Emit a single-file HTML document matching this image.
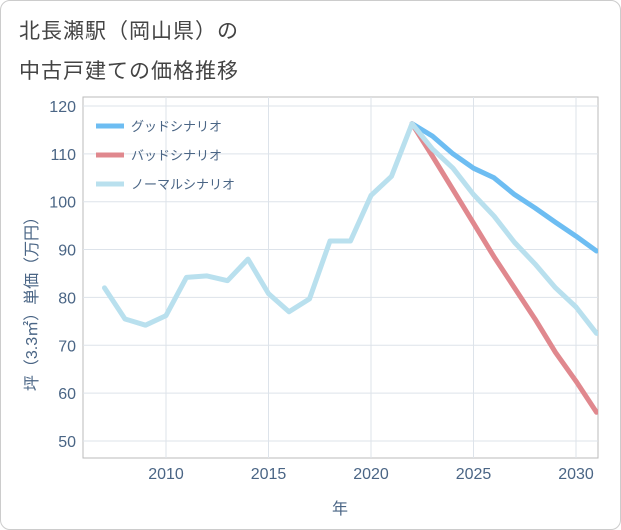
<!DOCTYPE html>
<html><head><meta charset="utf-8"><style>
body{margin:0;background:#fff;font-family:"Liberation Sans","Noto Sans CJK JP",sans-serif;}
#wrap{position:relative;width:619px;height:528px;border:1px solid #ccc;border-radius:10px;background:#fff;overflow:hidden}
.title{position:absolute;left:18px;font-size:21px;color:#444;letter-spacing:1px}
</style></head><body>
<div id="wrap">
<div class="title" style="top:14px">北長瀬駅（岡山県）の</div>
<div class="title" style="top:54px">中古戸建ての価格推移</div>
<svg id="chart" width="621" height="530" style="position:absolute;left:-1px;top:-1px"></svg>
</div>
<script>
const years=[2007,2008,2009,2010,2011,2012,2013,2014,2015,2016,2017,2018,2019,2020,2021,2022,2023,2024,2025,2026,2027,2028,2029,2030,2031];
const normalVals=[82,75.5,74.2,76.2,84.2,84.5,83.5,88,80.8,77,79.7,91.8,91.8,101.3,105.3,116.3,111,107,101.5,97,91.5,87,82,78,72.5];
const goodYears=[2022,2023,2024,2025,2026,2027,2028,2029,2030,2031];
const goodVals=[116.3,113.7,110,107,105,101.5,98.7,95.7,92.8,89.7];
const badVals=[116.3,109.5,102.5,95.5,88.5,82,75.5,68.5,62.5,56];
const yTicks=[50,60,70,80,90,100,110,120];
const xTicks=[2010,2015,2020,2025,2030];
const NS="http://www.w3.org/2000/svg";
const svg=document.getElementById('chart');
const L=83,R=598,T=97,B=458;
const X=v=>166+(v-2010)*20.5;
const Y=v=>441-(v-50)*4.786;
function mk(t,a,p){const e=document.createElementNS(NS,t);for(const k in a)e.setAttribute(k,a[k]);(p||svg).appendChild(e);return e;}
const frame=mk('rect',{x:L,y:T,width:R-L,height:B-T,fill:'none',stroke:'#bbb'});


yTicks.forEach(v=>{
 const g=mk('line',{x1:L,x2:R,y1:Y(v),y2:Y(v),stroke:'#dde3ea'});
 
 
 const t=mk('text',{x:76,y:Y(v)+6,'text-anchor':'end','font-size':16,fill:'#4a6585'});
 t.textContent=v;
 
 
});
xTicks.forEach(v=>{
 const g=mk('line',{x1:X(v),x2:X(v),y1:T,y2:B,stroke:'#dde3ea'});
 
 
 const t=mk('text',{x:X(v),y:479,'text-anchor':'middle','font-size':16,fill:'#4a6585'});
 t.textContent=v;
 
 
});
const xt=mk('text',{x:340,y:514,'text-anchor':'middle','font-size':16,fill:'#4a6585'});
xt.textContent='年';


const yt=mk('text',{x:0,y:0,'text-anchor':'middle','font-size':16,fill:'#4a6585',transform:'translate(37,300) rotate(-90)'});
yt.textContent='坪（3.3㎡）単価（万円）';


function line(xs,vs,color,name){
 const d=xs.map((x,i)=>(i?'L':'M')+X(x)+','+Y(vs[i])).join(' ');
 const p=mk('path',{d:d,fill:'none',stroke:color,'stroke-width':5,'stroke-linejoin':'round','stroke-linecap':'round'});
 
 
}
const clip=mk('clipPath',{id:'c'});mk('rect',{x:L,y:T,width:R-L,height:B-T},clip);
const gg=mk('g',{'clip-path':'url(#c)'});
const sv=svg;
function lineIn(xs,vs,color,name){
 const d=xs.map((x,i)=>(i?'L':'M')+X(x)+','+Y(vs[i])).join(' ');
 const p=mk('path',{d:d,fill:'none',stroke:color,'stroke-width':5,'stroke-linejoin':'round','stroke-linecap':'round'},gg);
 
 
}
lineIn(goodYears,goodVals,'#6dbdf2','good-scenario-line');
lineIn(goodYears,badVals,'#e0888e','bad-scenario-line');
lineIn(years,normalVals,'#b9e0ee','normal-scenario-line');
const leg=[['グッドシナリオ','#6dbdf2'],['バッドシナリオ','#e0888e'],['ノーマルシナリオ','#b9e0ee']];
leg.forEach((l,i)=>{
 const y=126+i*29;
 const g=mk('g',{});
 
 
 mk('line',{x1:96,x2:124,y1:y,y2:y,stroke:l[1],'stroke-width':5},g);
 const t=mk('text',{x:131,y:y+5,'font-size':13,fill:'#4a6585'},g);
 t.textContent=l[0];
});
</script>
</body></html>
